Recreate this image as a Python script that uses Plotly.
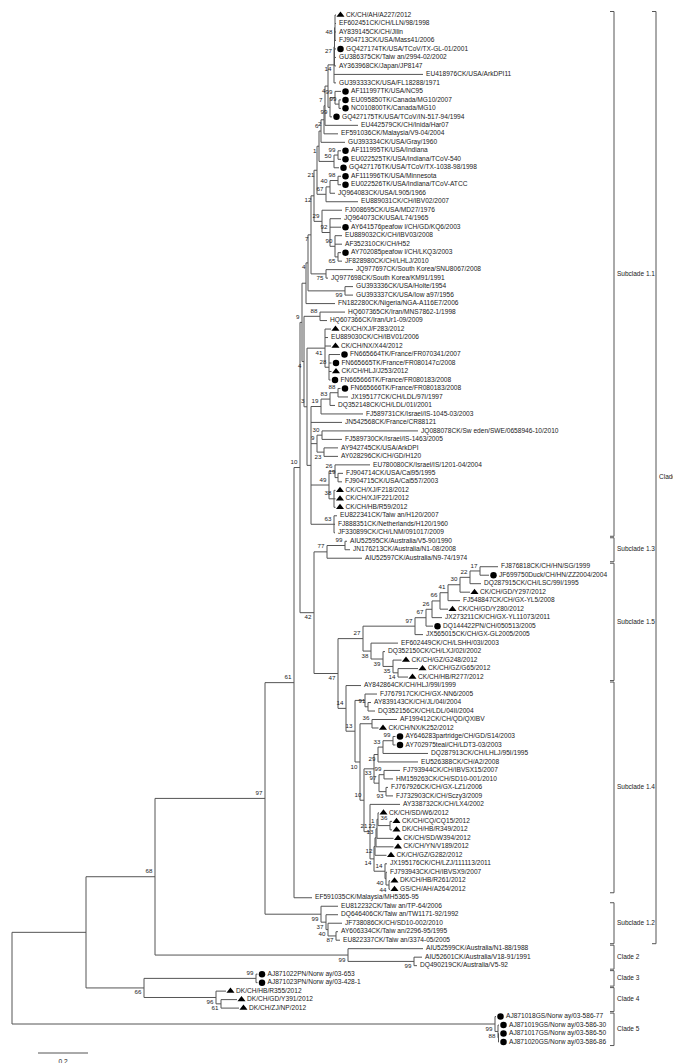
import plotly.graph_objects as go

# ---------------- data ----------------
leaf_labels = [
    "CK/CH/AH/A227/2012", "EF602451CK/CH/LLN/98/1998", "AY839145CK/CH/Jilin", "FJ904713CK/USA/Mass41/2006",
    "GQ427174TK/USA/TCoV/TX-GL-01/2001", "GU386375CK/Taiw an/2994-02/2002", "AY363968CK/Japan/JP8147",
    "EU418976CK/USA/ArkDPI11", "GU393333CK/USA/FL18288/1971", "AF111997TK/USA/NC95",
    "EU095850TK/Canada/MG10/2007", "NC010800TK/Canada/MG10", "GQ427175TK/USA/TCoV/IN-517-94/1994",
    "EU442579CK/CH/Inida/Har07", "EF591036CK/Malaysia/V9-04/2004", "GU393334CK/USA/Gray/1960",
    "AF111995TK/USA/Indiana", "EU022525TK/USA/Indiana/TCoV-540", "GQ427176TK/USA/TCoV/TX-1038-98/1998",
    "AF111996TK/USA/Minnesota", "EU022526TK/USA/Indiana/TCoV-ATCC", "JQ964083CK/USA/L905/1966",
    "EU889031CK/CH/IBV02/2007", "FJ008695CK/USA/MD27/1976", "JQ964073CK/USA/L74/1965",
    "AY641576peafow l/CH/GD/KQ6/2003", "EU889032CK/CH/IBV03/2008", "AF352310CK/CH/H52",
    "AY702085peafow l/CH/LKQ3/2003", "JF828980CK/CH/LHLJ/2010", "JQ977697CK/South Korea/SNU8067/2008",
    "JQ977698CK/South Korea/KM91/1991", "GU393336CK/USA/Holte/1954", "GU393337CK/USA/Iow a97/1956",
    "FN182280CK/Nigeria/NGA-A116E7/2006", "HQ607365CK/Iran/MNS7862-1/1998", "HQ607366CK/Iran/Ur1-09/2009",
    "CK/CH/XJ/F283/2012", "EU889030CK/CH/IBV01/2006", "CK/CH/NX/X44/2012",
    "FN665664TK/France/FR070341/2007", "FN665665TK/France/FR080147c/2008", "CK/CH/HLJ/J253/2012",
    "FN665666TK/France/FR080183/2008", "FN665666TK/France/FR080183/2008", "JX195177CK/CH/LDL/97I/1997",
    "DQ352148CK/CH/LDL/01I/2001", "FJ589731CK/Israel/IS-1045-03/2003", "JN542568CK/France/CR88121",
    "JQ088078CK/Sw eden/SWE/0658946-10/2010", "FJ589730CK/Israel/IS-1463/2005", "AY942745CK/USA/ArkDPI",
    "AY028296CK/CH/GD/H120", "EU780080CK/Israel/IS/1201-04/2004", "FJ904714CK/USA/Cal95/1995",
    "FJ904715CK/USA/Cal557/2003", "CK/CH/XJ/F218/2012", "CK/CH/XJ/F221/2012", "CK/CH/HB/R59/2012",
    "EU822341CK/Taiw an/H120/2007", "FJ888351CK/Netherlands/H120/1960", "JF330899CK/CH/LNM/091017/2009",
    "AIU52595CK/Australia/V5-90/1990", "JN176213CK/Australia/N1-08/2008", "AIU52597CK/Australia/N9-74/1974",
    "FJ876818CK/CH/HN/SG/1999", "JF699750Duck/CH/HN/ZZ2004/2004", "DQ287915CK/CH/LSC/99I/1995",
    "CK/CH/GD/Y297/2012", "FJ548847CK/CH/GX-YL5/2008", "CK/CH/GD/Y280/2012",
    "JX273211CK/CH/GX-YL11073/2011", "DQ144422PN/CH/050513/2005", "JX565015CK/CH/GX-GL2005/2005",
    "EF602449CK/CH/LSHH/03I/2003", "DQ352150CK/CH/LXJ/02I/2002", "CK/CH/GZ/G248/2012",
    "CK/CH/GZ/G65/2012", "CK/CH/HB/R277/2012", "AY842864CK/CH/HLJ/99I/1999",
    "FJ767917CK/CH/GX-NN6/2005", "AY839143CK/CH/JL/04I/2004", "DQ352156CK/CH/LDL/04II/2004",
    "AF199412CK/CH/QD/QXIBV", "CK/CH/NX/K252/2012", "AY646283partridge/CH/GD/S14/2003",
    "AY702975teal/CH/LDT3-03/2003", "DQ287913CK/CH/LHLJ/95I/1995", "EU526388CK/CH/A2/2008",
    "FJ793944CK/CH/IBVSX15/2007", "HM159263CK/CH/SD10-001/2010", "FJ767926CK/CH/GX-LZ1/2006",
    "FJ732903CK/CH/Sczy3/2009", "AY338732CK/CH/LX4/2002", "CK/CH/SD/W6/2012", "CK/CH/CQ/CQ15/2012",
    "DK/CH/HB/R349/2012", "CK/CH/SD/W394/2012", "CK/CH/YN/V189/2012", "CK/CH/GZ/G282/2012",
    "JX195176CK/CH/LZJ/111113/2011", "FJ793943CK/CH/IBVSX9/2007", "DK/CH/HB/R261/2012",
    "GS/CH/AH/A264/2012", "EF591035CK/Malaysia/MH5365-95", "EU812232CK/Taiw an/TP-64/2006",
    "DQ646406CK/Taiw an/TW1171-92/1992", "JF738086CK/CH/SD10-002/2010", "AY606334CK/Taiw an/2296-95/1995",
    "EU822337CK/Taiw an/3374-05/2005", "AIU52599CK/Australia/N1-88/1988", "AIU52601CK/Australia/V18-91/1991",
    "DQ490219CK/Australia/V5-92", "AJ871022PN/Norw ay/03-653", "AJ871023PN/Norw ay/03-428-1",
    "DK/CH/HB/R355/2012", "DK/CH/GD/Y391/2012", "DK/CH/ZJ/NP/2012",
    "AJ871018GS/Norw ay/03-586-77", "AJ871019GS/Norw ay/03-586-30", "AJ871017GS/Norw ay/03-586-50",
    "AJ871020GS/Norw ay/03-586-86",
]

# t = triangle (this study), c = circle, "" = none
leaf_marks = [
    "t", "", "", "", "c", "", "", "", "", "c", "c", "c", "c", "", "", "", "c", "c", "c", "c",
    "c", "", "", "", "", "c", "", "", "c", "", "", "", "", "", "", "", "", "t", "", "t",
    "c", "c", "t", "c", "c", "", "", "", "", "", "", "", "", "", "", "", "t", "t", "t", "",
    "", "", "", "", "", "", "c", "", "t", "", "t", "", "c", "", "", "", "t", "t", "t", "",
    "", "", "", "", "t", "c", "c", "", "", "", "", "", "", "", "t", "t", "t", "t", "t", "t",
    "", "", "t", "t", "", "", "", "", "", "", "", "", "", "c", "c", "t", "t", "t", "c", "c",
    "c", "c",
]

# distance of each tip from the root (substitutions/site)
leaf_depth = [
    1.296, 1.296, 1.296, 1.296, 1.296, 1.296, 1.296, 1.644, 1.296, 1.316,
    1.316, 1.316, 1.280, 1.384, 1.304, 1.332, 1.316, 1.316, 1.308, 1.316,
    1.316, 1.292, 1.384, 1.320, 1.316, 1.316, 1.320, 1.320, 1.316, 1.320,
    1.364, 1.264, 1.364, 1.364, 1.292, 1.332, 1.260, 1.276, 1.264, 1.276,
    1.312, 1.278, 1.278, 1.274, 1.314, 1.344, 1.292, 1.404, 1.320, 1.624,
    1.320, 1.304, 1.304, 1.432, 1.324, 1.320, 1.294, 1.294, 1.294, 1.300,
    1.292, 1.292, 1.340, 1.352, 1.400, 1.944, 1.908, 1.876, 1.832, 1.792,
    1.744, 1.720, 1.684, 1.644, 1.544, 1.492, 1.558, 1.624, 1.584, 1.396,
    1.460, 1.436, 1.452, 1.540, 1.466, 1.534, 1.534, 1.664, 1.624, 1.552,
    1.524, 1.504, 1.524, 1.552, 1.468, 1.520, 1.520, 1.526, 1.526, 1.498,
    1.500, 1.500, 1.512, 1.512, 1.200, 1.304, 1.304, 1.320, 1.304, 1.312,
    1.644, 1.640, 1.620, 0.982, 0.982, 0.856, 0.900, 0.908, 1.936, 1.948,
    1.948, 1.948,
]

# internal nodes: name, bootstrap, label side (a/A = above, b/B = below), depth, children
node_names = [
    "A48", "A27", "A14", "B99a", "B99b", "B99c", "B4", "B7", "B2", "B6", "C99", "C50", "B1",
    "C98", "C40", "C67", "B21", "G65", "G90", "G92", "G29", "B12", "G75", "B7b", "G99", "B4b",
    "Bfn", "H88", "H28", "H41", "H88b", "H83", "H19", "H30", "H23", "H9", "H19b", "H26", "H38",
    "H49", "H63", "HK", "HN", "HM", "B9", "S13b", "S13",
    "F17", "F22", "F30", "F41", "F66", "F26", "F67", "F97", "F14", "F35", "F39", "F38", "F27",
    "Q91", "QA", "Q36a", "Q99a", "Q33a", "Q29", "Q99b", "Q93", "Q97", "Q33b", "Q36b", "Q22",
    "Q1", "Q13b", "Q12", "Q44", "Q40", "Q14c", "Q14b", "Q21", "Q10b", "Q10a", "Q13", "Q14",
    "N47", "N42", "N10", "N61", "T87", "T40", "T37", "T99", "N97", "C2b", "C2", "N68",
    "C3", "C4b", "C4", "N66", "N78", "C5c", "C5b", "C5", "ROOT",
]
node_support = [
    "48", "27", "14", "99", "99", "99", "4", "7", "2", "6", "99", "50", "1",
    "98", "40", "67", "21", "65", "90", "92", "29", "12", "75", "7", "99", "4",
    "", "88", "28", "41", "88", "83", "19", "30", "23", "9", "19", "26", "38",
    "49", "63", "", "3", "4", "9", "99", "77",
    "17", "22", "30", "41", "66", "26", "67", "97", "14", "35", "39", "38", "27",
    "91", "", "36", "99", "33", "29", "99", "93", "97", "33", "36", "22",
    "1", "13", "12", "44", "40", "14", "14", "21", "10", "10", "13", "14",
    "47", "42", "10", "61", "87", "40", "37", "99", "97", "99", "99", "68",
    "99", "61", "96", "66", "", "", "88", "99", "",
]
node_side = [
    "b", "b", "b", "a", "a", "b", "b", "a", "b", "a", "a", "a", "b",
    "a", "a", "a", "b", "b", "a", "a", "a", "b", "b", "b", "b", "b",
    "a", "a", "a", "b", "a", "a", "a", "a", "b", "a", "a", "a", "a",
    "a", "a", "a", "a", "b", "a", "a", "a",
    "a", "a", "a", "a", "a", "a", "a", "a", "b", "b", "b", "b", "a",
    "a", "a", "a", "a", "a", "b", "a", "b", "a", "b", "A", "B",
    "A", "a", "b", "b", "b", "a", "b", "a", "a", "b", "a", "a",
    "b", "b", "a", "a", "b", "b", "b", "b", "a", "b", "b", "a",
    "a", "b", "b", "b", "a", "a", "b", "b", "a",
]
node_depth = [
    1.292, 1.290, 1.288, 1.308, 1.292, 1.272, 1.264, 1.252, 1.248, 1.236, 1.304, 1.288, 1.228,
    1.304, 1.272, 1.256, 1.220, 1.304, 1.292, 1.272, 1.240, 1.208, 1.256, 1.196, 1.332, 1.184,
    1.176, 1.232, 1.268, 1.252, 1.304, 1.272, 1.236, 1.240, 1.248, 1.220, 1.304, 1.292, 1.288,
    1.268, 1.288, 1.196, 1.180, 1.168, 1.160, 1.332, 1.260,
    1.872, 1.832, 1.792, 1.744, 1.712, 1.680, 1.656, 1.612, 1.544, 1.524, 1.484, 1.436, 1.404,
    1.424, 1.412, 1.440, 1.524, 1.484, 1.464, 1.488, 1.496, 1.468, 1.448, 1.512, 1.464,
    1.460, 1.456, 1.452, 1.508, 1.496, 1.492, 1.448, 1.432, 1.408, 1.392, 1.372, 1.336,
    1.304, 1.208, 1.152, 1.128, 1.296, 1.264, 1.256, 1.236, 1.012, 1.608, 1.344, 0.572,
    0.976, 0.836, 0.816, 0.528, 0.296, 1.946, 1.944, 1.932, 0.000,
]
node_children = [
    [1, 2, 3, 4], ["A48", 5, 6, 7], ["A27", 8, 9], [11, 12], [10, "B99a"], ["B99b", 13],
    ["A14", "B99c"], ["B4", 14], ["B7", 15], ["B2", 16], [17, 18], ["C99", 19], ["B6", "C50"],
    [20, 21], ["C98", 22], ["C40", 23], ["B1", "C67"], [29, 30], [27, 28, "G65"], [25, 26, "G90"],
    [24, "G92"], ["B21", "G29"], [31, 32], ["B12", "G75"], [33, 34], ["B7b", "G99"],
    ["B4b", 35], [36, 37], [41, 42, 43, 44], [38, 39, 40, "H28"], [45, 46], ["H88b", 47],
    ["H83", 48], [50, 51], [52, 53], ["H30", "H23"], [55, 56], [54, "H19b"], [57, 58, 59],
    ["H26", "H38"], [60, 61, 62], ["H19", 49, "H9", "H49", "H63"], ["H41", "HK"], ["H88", "HN"],
    ["Bfn", "HM"], [63, 64], ["S13b", 65],
    [66, 67], ["F17", 68], ["F22", 69], ["F30", 70], ["F41", 71], ["F66", 72], ["F26", 73],
    ["F67", 74], [78, 79], [77, "F14"], [76, "F35"], [75, "F39"], ["F97", "F38"],
    [82, 83], [81, "Q91"], [84, 85], [86, 87], ["Q99a", 88], ["Q33a", 89], [90, 91], [92, 93],
    ["Q99b", "Q93"], ["Q29", "Q97"], [96, 97], [95, "Q36b"], ["Q22", 98], ["Q1", 99],
    ["Q13b", 100], [103, 104], [102, "Q44"], [101, "Q40"], ["Q12", "Q14c"], [94, "Q14b"],
    ["Q33b", "Q21"], ["Q36a", "Q10b"], ["QA", "Q10a"], [80, "Q13"],
    ["F27", "Q14"], ["S13", "N47"], ["B9", "N42"], ["N10", 105], [109, 110], [108, "T87"],
    [107, "T40"], [106, "T37"], ["N61", "T99"], [112, 113], [111, "C2b"], ["N97", "C2"],
    [114, 115], [117, 118], [116, "C4b"], ["C3", "C4"], ["N68", "N66"], [121, 122],
    [120, "C5c"], [119, "C5b"], ["N78", "C5"],
]

group_names = ["Subclade 1.1", "Subclade 1.3", "Subclade 1.5", "Subclade 1.4", "Subclade 1.2",
               "Clade 2", "Clade 3", "Clade 4", "Clade 5"]
group_first = [1, 63, 66, 80, 106, 111, 114, 116, 119]
group_last = [62, 65, 79, 104, 110, 113, 115, 118, 122]
outer_name, outer_first, outer_last = "Clade 1", 1, 110
scale_value = 0.2

# ---------------- layout helpers ----------------
W, H = 681, 1063
PX_PER_UNIT = 250.0      # pixels per substitution/site
ROW_PX = 8.488           # pixels between tips
X0_PX, Y0_PX = 4.0, 7.0  # root x, first tip y
LABEL_SHIFT = {"a": -5.0, "b": 5.0, "A": -7.5, "B": 7.5}


def ux(px):  # pixel length -> x units
    return px / PX_PER_UNIT


def uy(px):  # pixel length -> row units
    return px / ROW_PX


def xpix(px):  # absolute pixel -> x data
    return (px - X0_PX) / PX_PER_UNIT


def ypix(px):
    return (px - Y0_PX) / ROW_PX


idx = {n: k for k, n in enumerate(node_names)}
pos = {}


def place(ref):
    if isinstance(ref, int):
        return leaf_depth[ref - 1], ref - 1
    if ref in pos:
        return pos[ref]
    k = idx[ref]
    ys = [place(c)[1] for c in node_children[k]]
    pos[ref] = (node_depth[k], (min(ys) + max(ys)) / 2)
    return pos[ref]


lx, ly = [], []
for k, name in enumerate(node_names):
    x, y = place(name)
    cys = [place(c)[1] for c in node_children[k]]
    lx += [x, x, None]
    ly += [min(cys), max(cys), None]
    for c in node_children[k]:
        cx, cy = place(c)
        lx += [x, cx, None]
        ly += [cy, cy, None]

LINE = "#555555"
TXT = "#1a1a1a"
FONT = "Liberation Sans, Arial, sans-serif"

fig = go.Figure()
fig.add_trace(go.Scatter(x=lx, y=ly, mode="lines", line=dict(color=LINE, width=1),
                         hoverinfo="skip", showlegend=False))

# markers
for mk, sym, size in (("t", "triangle-up", 7), ("c", "circle", 6.5)):
    xs = [leaf_depth[i] + ux(4.5) for i in range(len(leaf_labels)) if leaf_marks[i] == mk]
    ys = [i for i in range(len(leaf_labels)) if leaf_marks[i] == mk]
    fig.add_trace(go.Scatter(x=xs, y=ys, mode="markers",
                             marker=dict(symbol=sym, size=size, color="black", line=dict(width=0)),
                             hoverinfo="skip", showlegend=False))

# tip labels
tx = [leaf_depth[i] + ux(10 if leaf_marks[i] else 3) for i in range(len(leaf_labels))]
fig.add_trace(go.Scatter(x=tx, y=list(range(len(leaf_labels))), mode="text", text=leaf_labels,
                         textposition="middle right",
                         textfont=dict(family=FONT, size=6.6, color=TXT),
                         hoverinfo="skip", showlegend=False))

# bootstrap labels
bx, by, bt = [], [], []
for k, name in enumerate(node_names):
    if not node_support[k]:
        continue
    x, y = place(name)
    bx.append(x - ux(2.5))
    by.append(y + uy(LABEL_SHIFT[node_side[k]]))
    bt.append(node_support[k])
fig.add_trace(go.Scatter(x=bx, y=by, mode="text", text=bt, textposition="middle left",
                         textfont=dict(family=FONT, size=6.2, color=TXT),
                         hoverinfo="skip", showlegend=False))

# clade brackets
kx, ky = [], []
gx, gy, gt = [], [], []


def bracket(xp, first, last, name):
    y1 = first - 1 - uy(3.5)
    y2 = last - 1 + uy(3.5)
    xb = xpix(xp)
    xt = xpix(xp - 4)
    kx.extend([xt, xb, xb, xt, None])
    ky.extend([y1, y1, y2, y2, None])
    gx.append(xpix(xp + 3))
    gy.append((y1 + y2) / 2)
    gt.append(name)


for n, f, l in zip(group_names, group_first, group_last):
    bracket(606, f, l, n)
bracket(648, outer_first, outer_last, outer_name)

fig.add_trace(go.Scatter(x=kx, y=ky, mode="lines", line=dict(color=LINE, width=1),
                         hoverinfo="skip", showlegend=False))
fig.add_trace(go.Scatter(x=gx, y=gy, mode="text", text=gt, textposition="middle right",
                         textfont=dict(family=FONT, size=6.5, color=TXT),
                         hoverinfo="skip", showlegend=False))

# scale bar
sb_x0 = xpix(30)
sb_y = ypix(1045)
fig.add_trace(go.Scatter(x=[sb_x0, sb_x0 + scale_value], y=[sb_y, sb_y], mode="lines",
                         line=dict(color=LINE, width=1), hoverinfo="skip", showlegend=False))
fig.add_trace(go.Scatter(x=[sb_x0 + scale_value / 2], y=[ypix(1054)], mode="text",
                         text=[str(scale_value)], textposition="middle center",
                         textfont=dict(family=FONT, size=6.6, color=TXT),
                         hoverinfo="skip", showlegend=False))

fig.update_layout(
    width=W, height=H, margin=dict(l=0, r=0, t=0, b=0),
    paper_bgcolor="white", plot_bgcolor="white",
    xaxis=dict(range=[xpix(0), xpix(W)], visible=False, fixedrange=True),
    yaxis=dict(range=[ypix(H), ypix(0)], visible=False, fixedrange=True),
)
fig.write_html("out.html")
